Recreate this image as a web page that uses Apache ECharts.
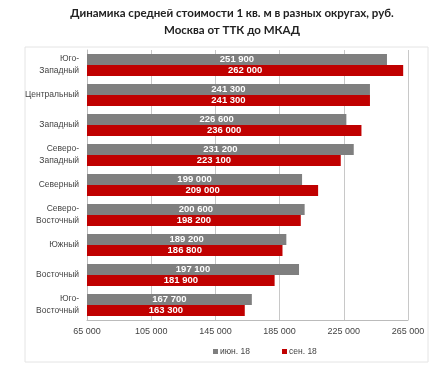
<!DOCTYPE html>
<html><head><meta charset="utf-8">
<script src="https://cdn.jsdelivr.net/npm/echarts@6/dist/echarts.min.js"></script>
<style>html,body{margin:0;padding:0;background:#fff}#c{width:442px;height:366px}</style>
</head><body><div id="c"></div>
<script>
const categories = ["Юго-\nЗападный","Центральный","Западный","Северо-\nЗападный","Северный","Северо-\nВосточный","Южный","Восточный","Юго-\nВосточный"];
const seriesNames = ["июн. 18","сен. 18"];
const jun18 = [251900,241300,226600,231200,199000,200600,189200,197100,167700];
const sep18 = [262000,241300,236000,223100,209000,198200,186800,181900,163300];
const xTicks = {min:65000,max:265000,interval:40000};

const fmt = v => String(v).replace(/\B(?=(\d{3})+(?!\d))/g, ' ');
const chart = echarts.init(document.getElementById('c'), null, {renderer:'canvas'});
const lbl = {show:true, position:'inside', color:'#fff', fontWeight:'bold', fontSize:9.5, fontFamily:'Liberation Sans, Arial', formatter:p=>fmt(p.value)};
chart.setOption({
  animation:false,
  graphic:[{type:'rect', shape:{x:25,y:47,width:403,height:315}, style:{fill:'none', stroke:'#e4e4e4', lineWidth:1}, z:-1}],
  title:{text:'Динамика средней стоимости 1 кв. м в разных округах, руб.\nМосква от ТТК до МКАД', left:227, textAlign:'center', top:0,
    textStyle:{fontSize:11.5, fontWeight:'bold', color:'#222', fontFamily:'Lato, Noto Sans', lineHeight:17}},
  legend:{bottom:5, left:208, itemWidth:5, itemHeight:5, itemGap:32, icon:'rect',
    textStyle:{fontSize:8.5, color:'#444', fontFamily:'Liberation Sans, Arial', padding:[0,0,0,-3]}},
  grid:{left:87, right:34, top:50, bottom:46},
  xAxis:{type:'value', min:xTicks.min, max:xTicks.max, interval:xTicks.interval,
    axisLabel:{formatter:fmt, fontSize:9, color:'#444', fontFamily:'Liberation Sans, Arial', margin:7},
    splitLine:{lineStyle:{color:'#c8c8c8'}}, axisLine:{show:true, lineStyle:{color:'#bbb'}}, axisTick:{show:false}},
  yAxis:{type:'category', data:categories, inverse:true,
    axisLabel:{fontSize:8.5, color:'#444', fontFamily:'Liberation Sans, Arial', margin:8, lineHeight:12},
    axisLine:{show:true, lineStyle:{color:'#bbb'}}, axisTick:{show:false}},
  series:[
    {name:seriesNames[0], type:'bar', data:jun18, barWidth:11, barGap:'0%', itemStyle:{color:'#7f7f7f'}, label:lbl},
    {name:seriesNames[1], type:'bar', data:sep18, barWidth:11, barGap:'0%', itemStyle:{color:'#c00000'}, label:lbl}
  ]
});
</script></body></html>
